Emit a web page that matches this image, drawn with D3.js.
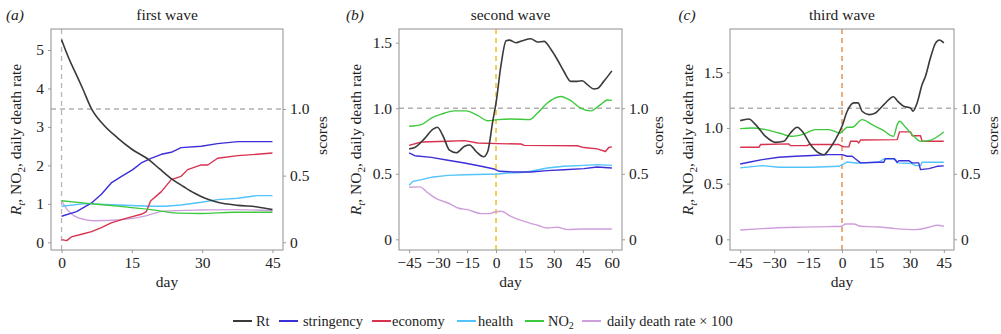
<!DOCTYPE html>
<html><head><meta charset="utf-8">
<script src="https://cdn.jsdelivr.net/npm/d3@7"></script>
<style>
body{margin:0;background:#fff}
svg{display:block}
svg text{fill:#222}
</style>
</head><body>
<svg id="chart" width="1001" height="334"></svg>
<script>
// ---------- data: [day, value] ----------
// panel (a) first wave
const rtA = [[0,5.27],[1.5,4.8],[3,4.4],[4.5,4.0],[6.4,3.47],[9,3.05],[12,2.71],[15,2.42],[18.8,2.13],[21,1.9],[23.7,1.63],[26,1.45],[28.3,1.28],[30.5,1.15],[33.3,1.04],[37.6,0.96],[41.8,0.92],[45,0.85]];
const strA = [[0,0.195],[3.2,0.23],[6.4,0.295],[8.5,0.36],[10.6,0.445],[12.8,0.495],[15.2,0.545],[17,0.595],[19.1,0.63],[21.3,0.66],[23.4,0.675],[25.5,0.71],[29.8,0.72],[33.3,0.74],[37.6,0.755],[45,0.755]];
const ecoA = [[0,0.02],[1.1,0.0125],[2.1,0.04],[4.3,0.06],[6.4,0.08],[8.5,0.11],[10.6,0.145],[12.8,0.17],[14.9,0.19],[17,0.21],[18.1,0.23],[19,0.31],[21.3,0.38],[23.4,0.47],[25.5,0.495],[26.9,0.545],[29.8,0.58],[31.2,0.58],[33.3,0.63],[37.6,0.65],[41.8,0.66],[45,0.67]];
const heaA = [[0,0.27],[5,0.29],[12,0.28],[19.1,0.27],[22,0.27],[25.5,0.28],[29.8,0.30],[33.3,0.32],[37.6,0.33],[41.8,0.35],[45,0.35]];
const no2A = [[0,1.08],[5,1.02],[12,0.94],[19.1,0.85],[24.8,0.76],[29.8,0.75],[36.8,0.78],[45,0.78]];
const ddrA = [[0,1.08],[1.2,0.85],[2.8,0.68],[5,0.59],[7.1,0.56],[12.1,0.58],[17.7,0.68],[21.9,0.81],[29.8,0.84],[36.8,0.85],[45,0.82]];

// panel (b) second wave
const rtB = [[-45,0.69],[-42.1,0.70],[-36.9,0.77],[-32.6,0.84],[-30.4,0.855],[-27.5,0.79],[-24.1,0.68],[-20.6,0.66],[-16.3,0.71],[-13.7,0.72],[-10.3,0.67],[-6.4,0.63],[-4.3,0.67],[-1.7,0.90],[0,1.04],[2.6,1.33],[5.2,1.515],[6.9,1.52],[10.3,1.50],[13.7,1.515],[18,1.53],[21.5,1.505],[24.9,1.51],[28.4,1.45],[31.8,1.37],[35.2,1.28],[38.7,1.205],[42.1,1.205],[44.7,1.21],[47.3,1.18],[50.7,1.147],[52.4,1.15],[55.8,1.205],[60,1.285]];
const strB = [[-45,0.659],[-42.1,0.638],[-33.5,0.625],[-24.9,0.603],[-16.3,0.582],[-7.7,0.557],[-0.9,0.536],[1.7,0.519],[9.5,0.514],[18,0.514],[26.6,0.524],[35.2,0.531],[45.5,0.539],[52.4,0.552],[60,0.544]];
const ecoB = [[-45,0.717],[-38.7,0.742],[-24.9,0.748],[-16.3,0.753],[-9.5,0.735],[0.9,0.73],[12.9,0.727],[14.6,0.717],[42.1,0.714],[45.5,0.70],[52.4,0.69],[56.7,0.67],[58.4,0.70],[60,0.705]];
const heaB = [[-45,0.412],[-43,0.442],[-38.7,0.455],[-33.5,0.473],[-24.9,0.488],[-16.3,0.493],[0.9,0.498],[6,0.506],[12.9,0.509],[18,0.519],[26.6,0.544],[35.2,0.557],[45.5,0.564],[52.4,0.57],[60,0.564]];
const no2B = [[-45,0.862],[-38.7,0.875],[-33.5,0.925],[-28.4,0.955],[-21.5,0.98],[-15.5,0.98],[-9.5,0.945],[-4.3,0.905],[0.9,0.913],[7.7,0.918],[17.2,0.913],[21.5,0.963],[26.6,1.04],[33.5,1.09],[38.7,1.058],[43.8,1.00],[49,0.98],[54.1,1.027],[57.6,1.063],[60,1.06]];
const ddrB = [[-45,0.397],[-39.5,0.40],[-35.2,0.353],[-30.9,0.31],[-24.9,0.277],[-19.8,0.239],[-14.6,0.226],[-7.7,0.196],[-3.4,0.196],[-0.9,0.208],[2.6,0.214],[7.7,0.175],[14.6,0.137],[21.5,0.107],[26.6,0.086],[31.8,0.092],[36.9,0.074],[45.5,0.079],[60,0.079]];

// panel (c) third wave
const rtC = [[-45,1.066],[-41.2,1.08],[-38.2,1.03],[-33.8,0.925],[-29.4,0.871],[-25.7,0.88],[-22.8,0.955],[-19.8,1.006],[-17.6,0.97],[-13.9,0.85],[-10.2,0.775],[-8,0.76],[-5.8,0.805],[-2.9,0.895],[0,1.015],[2.3,1.15],[5.2,1.225],[7.1,1.225],[8.9,1.15],[11.9,1.12],[14.8,1.135],[18.5,1.21],[22.8,1.28],[24.4,1.245],[27.3,1.195],[30.3,1.18],[31.4,1.15],[33.2,1.225],[35.4,1.39],[36.9,1.465],[39.1,1.63],[41.3,1.76],[43.1,1.79],[45,1.765]];
const strC = [[-45,0.575],[-41.2,0.588],[-35.3,0.608],[-27.9,0.626],[-20.5,0.634],[-13.2,0.639],[-5.8,0.646],[0,0.646],[2.3,0.634],[4.5,0.634],[6,0.613],[8.2,0.583],[16.3,0.588],[18.5,0.588],[19.2,0.616],[22.9,0.616],[24.4,0.588],[25.1,0.6],[29.5,0.6],[31,0.583],[33.9,0.583],[34.7,0.532],[38.4,0.539],[42.1,0.557],[45,0.56]];
const ecoC = [[-45,0.702],[-36.7,0.702],[-36,0.723],[-23.5,0.728],[-22.8,0.715],[-15.4,0.715],[-14.7,0.723],[-1.4,0.723],[0.8,0.705],[3,0.705],[3.8,0.748],[6.7,0.748],[7.4,0.735],[8.2,0.758],[24.4,0.761],[25.4,0.82],[30.3,0.82],[31,0.79],[34.7,0.79],[35.4,0.748],[45,0.748]];
const heaC = [[-45,0.545],[-35.3,0.562],[-27.9,0.55],[-13.2,0.55],[-1.4,0.557],[0.8,0.575],[2.3,0.59],[6,0.582],[8.9,0.582],[16.3,0.59],[18.5,0.613],[23.6,0.613],[24.4,0.583],[31,0.578],[32.5,0.562],[34.7,0.562],[35.4,0.588],[45,0.588]];
const no2C = [[-45,0.994],[-39.7,1.0],[-33.8,0.985],[-27.9,0.955],[-22,0.925],[-17.6,0.94],[-11.7,0.985],[-5.8,0.985],[-0.7,0.955],[2.3,1.006],[4.5,1.006],[8.9,1.075],[13.3,1.03],[17.7,0.985],[22.8,0.925],[24.4,1.03],[25.4,1.06],[28.1,1.006],[31.8,0.925],[34.7,0.88],[38.4,0.886],[45,0.964]];
const ddrC = [[-45,0.084],[-35.3,0.096],[-20.5,0.108],[-5.8,0.114],[0,0.117],[1.5,0.138],[5.2,0.138],[8.2,0.117],[16.3,0.111],[23.6,0.096],[32.5,0.087],[38.4,0.108],[42.1,0.126],[45,0.117]];

// axis ticks and labels
const titles = ["first wave","second wave","third wave"];
const tags = ["(a)","(b)","(c)"];
const xTicksA = [0,15,30,45];
const xTicksB = [-45,-30,-15,0,15,30,45,60];
const xTicksC = [-45,-30,-15,0,15,30,45];
const yTicksA = [0,1,2,3,4,5];
const yTicksBC = [0,0.5,1.0,1.5];
const sTicks = [0,0.5,1.0];
const legendLabels = ["Rt","stringency","economy","health","NO2","daily death rate × 100"];

// ---------- styles ----------
const FONT = "Liberation Serif";
const colors = {rt:"#3a3a3a",str:"#3b2fd9",eco:"#d9324f",hea:"#52c3fb",no2:"#3dc93d",ddr:"#cf9fdb"};

const svg = d3.select("#chart");

const panels = [
  {tag:tags[0],title:titles[0],x0:51,x1:283,xDom:[-2.25,47.25],xTicks:xTicksA,yDom:[-0.2,5.546],yTicks:yTicksA,sDom:[-0.058,1.6],
   vcol:"#b5b5b5",series:{rt:rtA,str:strA,eco:ecoA,hea:heaA,no2:no2A,ddr:ddrA},tagX:15,ylabX:16,slabX:322},
  {tag:tags[1],title:titles[1],x0:399,x1:622,xDom:[-50.25,65.25],xTicks:xTicksB,yDom:[-0.0816,1.6045],yTicks:yTicksBC,sDom:[-0.0816,1.6045],
   vcol:"#f4b400",series:{rt:rtB,str:strB,eco:ecoB,hea:heaB,no2:no2B,ddr:ddrB},tagX:355,ylabX:356,slabX:658},
  {tag:tags[2],title:titles[2],x0:730,x1:954,xDom:[-49.5,49.5],xTicks:xTicksC,yDom:[-0.0961,1.889],yTicks:yTicksBC,sDom:[-0.0817,1.605],
   vcol:"#e0813a",series:{rt:rtC,str:strC,eco:ecoC,hea:heaC,no2:no2C,ddr:ddrC},tagX:687,ylabX:688,slabX:993}
];
const yTop = 29, yBot = 250;

panels.forEach(p => {
  const g = svg.append("g");
  const x = d3.scaleLinear().domain(p.xDom).range([p.x0,p.x1]);
  const y = d3.scaleLinear().domain(p.yDom).range([yBot,yTop]);
  const s = d3.scaleLinear().domain(p.sDom).range([yBot,yTop]);

  // titles
  g.append("text").attr("x",(p.x0+p.x1)/2).attr("y",20).attr("text-anchor","middle").attr("font-size",15.5).text(p.title);
  g.append("text").attr("x",p.tagX).attr("y",20).attr("text-anchor","middle").attr("font-size",15.5).attr("font-style","italic").text(p.tag);

  // reference lines
  g.append("line").attr("x1",p.x0).attr("x2",p.x1).attr("y1",s(1)).attr("y2",s(1))
    .attr("stroke","#b0b0b0").attr("stroke-width",1.3).attr("stroke-dasharray","5,4");
  g.append("line").attr("x1",x(0)).attr("x2",x(0)).attr("y1",yTop).attr("y2",yBot)
    .attr("stroke",p.vcol).attr("stroke-width",1.3).attr("stroke-dasharray","5,4");

  // series
  const lineL = d3.line().x(d=>x(d[0])).y(d=>y(d[1])).curve(d3.curveMonotoneX);
  const lineS = d3.line().x(d=>x(d[0])).y(d=>s(d[1]));
  const order = [["ddr",lineL],["hea",lineS],["eco",lineS],["str",lineS],["no2",lineL],["rt",lineL]];
  order.forEach(([k,gen]) => {
    g.append("path").attr("d",gen(p.series[k])).attr("fill","none")
      .attr("stroke",colors[k]).attr("stroke-width",k==="rt"?1.6:1.4).attr("stroke-linejoin","round");
  });

  // frame
  g.append("rect").attr("x",p.x0).attr("y",yTop).attr("width",p.x1-p.x0).attr("height",yBot-yTop)
    .attr("fill","none").attr("stroke","#9a9a9a").attr("stroke-width",1.1);

  // axes
  const fmtL = p.tag==="(a)" ? d3.format("d") : (d => d===0 ? "0" : d3.format(".1f")(d));
  const fmtS = d => d===0 ? "0" : d3.format(".1f")(d);
  const ax = g.append("g").attr("transform",`translate(0,${yBot})`)
    .call(d3.axisBottom(x).tickValues(p.xTicks).tickSize(3).tickPadding(4).tickFormat(d3.format("d")));
  const ay = g.append("g").attr("transform",`translate(${p.x0},0)`)
    .call(d3.axisLeft(y).tickValues(p.yTicks).tickSize(3).tickPadding(4).tickFormat(fmtL));
  const as = g.append("g").attr("transform",`translate(${p.x1},0)`)
    .call(d3.axisRight(s).tickValues(sTicks).tickSize(3).tickPadding(4).tickFormat(fmtS));
  [ax,ay,as].forEach(a => {
    a.select(".domain").remove();
    a.selectAll(".tick line").attr("stroke","#9a9a9a");
    a.selectAll(".tick text").attr("font-size",15.5).attr("fill","#222");
  });

  // axis titles
  g.append("text").attr("x",(p.x0+p.x1)/2).attr("y",287).attr("text-anchor","middle").attr("font-size",15.5).text("day");
  const yl = g.append("text").attr("transform",`translate(${p.ylabX},${(yTop+yBot)/2}) rotate(-90)`)
    .attr("text-anchor","middle").attr("dy","0.35em").attr("font-size",15.5);
  yl.append("tspan").attr("font-style","italic").text("R");
  yl.append("tspan").attr("font-style","italic").attr("font-size",11).attr("dy",4).text("t");
  yl.append("tspan").attr("dy",-4).text(", NO");
  yl.append("tspan").attr("font-size",11).attr("dy",4).text("2");
  yl.append("tspan").attr("dy",-4).text(", daily death rate");
  g.append("text").attr("transform",`translate(${p.slabX},${(yTop+yBot)/2 - 4}) rotate(-90)`)
    .attr("text-anchor","middle").attr("dy","0.35em").attr("font-size",15.5).text("scores");
});

// legend
const legKeys = ["rt","str","eco","hea","no2","ddr"];
const legX = [233,279,372,457,525,582];
const legTX = [256,303,392,478,548,607];
const lg = svg.append("g");
legKeys.forEach((k,i) => {
  lg.append("line").attr("x1",legX[i]).attr("x2",legX[i]+19).attr("y1",321).attr("y2",321)
    .attr("stroke",colors[k]).attr("stroke-width",2);
  const t = lg.append("text").attr("x",legTX[i]).attr("y",326).attr("font-size",14.4);
  if (legendLabels[i]==="NO2") {
    t.append("tspan").text("NO");
    t.append("tspan").attr("font-size",10).attr("dy",3).text("2");
  } else t.text(legendLabels[i]);
});
svg.selectAll("text").attr("font-family",FONT);
</script>
</body></html>
